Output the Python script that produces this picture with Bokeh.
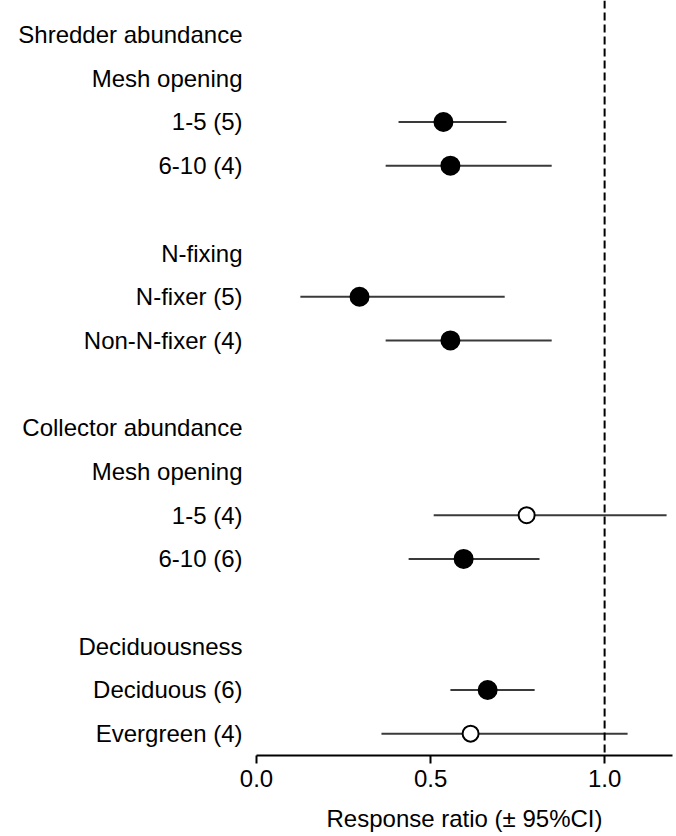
from bokeh.plotting import figure
from bokeh.models import Range1d, FixedTicker, Span, ColumnDataSource
from bokeh.embed import file_html
from bokeh.resources import INLINE

# Row labels (top to bottom); empty strings are spacer rows
row_labels = [
    "Shredder abundance", "Mesh opening", "1-5 (5)", "6-10 (4)", "",
    "N-fixing", "N-fixer (5)", "Non-N-fixer (4)", "",
    "Collector abundance", "Mesh opening", "1-5 (4)", "6-10 (6)", "",
    "Deciduousness", "Deciduous (6)", "Evergreen (4)",
]

# Rows that carry an estimate
est_rows = [2, 3, 6, 7, 11, 12, 15, 16]
ratio = [0.537, 0.557, 0.296, 0.557, 0.776, 0.595, 0.664, 0.615]
ci_low = [0.408, 0.371, 0.126, 0.371, 0.509, 0.437, 0.557, 0.359]
ci_high = [0.718, 0.848, 0.713, 0.848, 1.178, 0.813, 0.799, 1.066]
overlaps_one = [False, False, False, False, True, False, False, True]

x_ticks = [0.0, 0.5, 1.0]
x_tick_labels = ["0.0", "0.5", "1.0"]

FONT = "Liberation Sans"

p = figure(
    width=676, height=836,
    x_range=Range1d(0, 1.195),
    y_range=Range1d(16.5, -0.78),
    output_backend="svg", toolbar_location=None,
    min_border_left=256, min_border_right=4,
    min_border_top=0, min_border_bottom=81,
)
p.outline_line_color = None
p.grid.visible = False
p.background_fill_color = "white"
p.border_fill_color = "white"

# y axis used as the row-label column
label_ticks = [i for i, s in enumerate(row_labels) if s]
p.yaxis.ticker = FixedTicker(ticks=label_ticks)
p.yaxis.major_label_overrides = {i: row_labels[i] for i in label_ticks}
p.yaxis.axis_line_color = None
p.yaxis.major_tick_line_color = None
p.yaxis.minor_tick_line_color = None
p.yaxis.major_label_standoff = 8
p.yaxis.major_label_text_font = FONT
p.yaxis.major_label_text_font_size = "24px"
p.yaxis.major_label_text_color = "black"

# x axis
p.xaxis.ticker = FixedTicker(ticks=x_ticks)
p.xaxis.major_label_overrides = dict(zip(x_ticks, x_tick_labels))
p.xaxis.minor_tick_line_color = None
p.xaxis.axis_line_width = 2
p.xaxis.axis_line_color = "black"
p.xaxis.major_tick_line_width = 2
p.xaxis.major_tick_line_color = "black"
p.xaxis.major_tick_in = 0
p.xaxis.major_tick_out = 8
p.xaxis.major_label_standoff = 6
p.xaxis.major_label_text_font = FONT
p.xaxis.major_label_text_font_size = "24px"
p.xaxis.major_label_text_color = "black"
p.xaxis.axis_label = "Response ratio (\u00b1 95%CI)"
p.xaxis.axis_label_text_font = FONT
p.xaxis.axis_label_text_font_size = "24px"
p.xaxis.axis_label_text_font_style = "normal"
p.xaxis.axis_label_text_color = "black"
p.xaxis.axis_label_standoff = 15

# reference line at a ratio of 1
p.add_layout(Span(location=1.0, dimension="height", line_color="black",
                  line_width=2, line_dash="8 4"))

src = ColumnDataSource(dict(
    y=est_rows, rr=ratio, lo=ci_low, hi=ci_high,
    fill=["white" if o else "black" for o in overlaps_one],
    size=[16 if o else 18 for o in overlaps_one],
))

p.segment(x0="lo", x1="hi", y0="y", y1="y", source=src,
          line_color="#3a3a3a", line_width=2)
p.scatter(x="rr", y="y", source=src, marker="circle", size="size",
          fill_color="fill", line_color="black", line_width=2)

open("out.html", "w").write(file_html(p, INLINE))
